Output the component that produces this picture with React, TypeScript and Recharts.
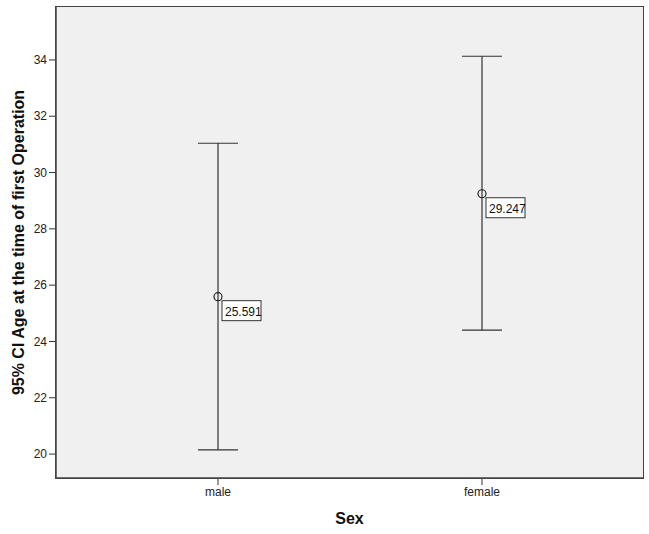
import {
  ComposedChart,
  Line,
  XAxis,
  YAxis,
  ErrorBar,
  LabelList,
  CartesianGrid,
  Label,
} from "recharts";

const sexes = ["male", "female"];
const means = [25.591, 29.247];
const lowerCI = [20.15, 24.4];
const upperCI = [31.04, 34.13];
const yTicks = [20, 22, 24, 26, 28, 30, 32, 34];

const data = sexes.map((s, i) => ({
  sex: s,
  mean: means[i],
  ci: [means[i] - lowerCI[i], upperCI[i] - means[i]],
}));

const FONT = "Arial, 'Liberation Sans', sans-serif";
const Y_DOMAIN: [number, number] = [19.15, 35.88];
const FRAME = { stroke: "#444", strokeWidth: 1.5 };

const MeanDot = (props: any) => {
  const { cx, cy } = props;
  return <circle cx={cx} cy={cy} r={4} fill="none" stroke="#222" strokeWidth={1.2} />;
};

const ValueBox = (props: any) => {
  const { x, y, value } = props;
  const bx = x + 4;
  const by = y + 4;
  return (
    <g>
      <rect x={bx} y={by} width={39} height={20} fill="#fff" stroke="#333" strokeWidth={1} />
      <text x={bx + 3} y={by + 15} fontSize={12} fontFamily={FONT} fill="#111">
        {value.toFixed(3)}
      </text>
    </g>
  );
};

export default function App() {
  return (
    <div style={{ position: "absolute", left: 0, top: 0, background: "#fff", width: 649, height: 534 }}>
      <ComposedChart
        width={649}
        height={534}
        data={data}
        margin={{ top: 7, right: 6, left: 0, bottom: 0 }}
      >
        <CartesianGrid
          horizontal={false}
          vertical={false}
          fill="#f0f0f0"
          fillOpacity={1}
        />
        <XAxis
          dataKey="sex"
          height={56}
          padding={{ left: 162, right: 161 }}
          tick={{ fill: "#222", fontSize: 12, fontFamily: FONT }}
          tickSize={7}
          tickLine={{ stroke: "#333" }}
          axisLine={FRAME}
        >
          <Label
            value="Sex"
            position="insideBottom"
            offset={10}
            style={{ fontSize: 16, fontWeight: "bold", fontFamily: FONT, fill: "#111" }}
          />
        </XAxis>
        <YAxis
          width={56}
          domain={Y_DOMAIN}
          ticks={yTicks}
          allowDataOverflow
          tick={{ fill: "#222", fontSize: 12, fontFamily: FONT }}
          tickSize={7}
          tickLine={{ stroke: "#333" }}
          axisLine={FRAME}
        >
          <Label
            value="95% CI Age at the time of first Operation"
            angle={-90}
            position="insideLeft"
            offset={18}
            style={{ textAnchor: "middle", fontSize: 16, fontWeight: "bold", fontFamily: FONT, fill: "#111" }}
          />
        </YAxis>
        <Line
          dataKey="mean"
          stroke="none"
          dot={<MeanDot />}
          activeDot={false}
          isAnimationActive={false}
        >
          <ErrorBar dataKey="ci" width={20} stroke="#333" strokeWidth={1.2} direction="y" />
          <LabelList dataKey="mean" content={<ValueBox />} />
        </Line>
      </ComposedChart>
      {/* plot frame, SPSS style box around the data area */}
      <div
        style={{
          position: "absolute",
          left: 55,
          top: 6,
          width: 589,
          height: 473,
          boxSizing: "border-box",
          border: "1.5px solid #444",
          pointerEvents: "none",
        }}
      />
    </div>
  );
}
